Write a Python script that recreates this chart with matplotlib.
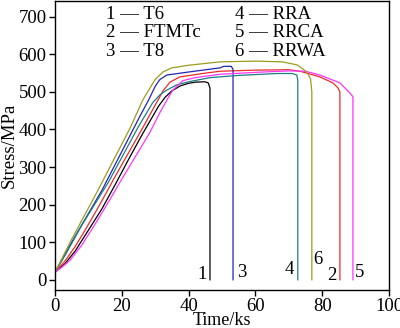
import matplotlib
matplotlib.use("Agg")
import matplotlib.pyplot as plt

plt.rcParams['font.family'] = ['Liberation Serif', 'DejaVu Serif']
plt.rcParams['font.size'] = 13.5

# stress-time curves (Time/ks, Stress/MPa)
t6_t = [0, 3, 6, 9, 12, 14, 18, 22, 26, 31, 33, 35, 37.5, 40, 42, 44.9, 45.9, 46.4, 46.4]
t6_s = [20, 43, 76, 118, 160, 188, 253, 320, 385, 462, 486, 503, 516, 523, 526, 527, 524, 510, 0]

ftmtc_t = [0, 3, 6, 9, 12, 15, 18, 21.5, 26.3, 30.5, 32.3, 34.4, 37.4, 45, 49.4, 60, 70,
           73.4, 79.3, 83.2, 84.7, 85.3, 85.3]
ftmtc_s = [20, 50, 88, 132, 178, 226, 275, 330, 405, 473, 502, 526, 540, 550, 555, 558, 559,
           555, 540, 524, 511, 500, 0]

t8_t = [0, 5, 14.1, 25.4, 28, 30, 31.4, 33.5, 40, 49.4, 50.5, 52.8, 53.3, 53.3]
t8_s = [20, 100, 239, 435, 478, 515, 533, 545, 553, 564, 568, 568, 560, 0]

rra_t = [0, 3, 8, 16, 25, 29.3, 31.5, 33.5, 36.5, 40, 46.4, 55, 66.5, 71, 72.4, 72.7, 72.7]
rra_s = [20, 65, 145, 260, 408, 472, 493, 505, 519, 527, 538, 544, 549, 549, 545, 530, 0]

rrca_t = [0, 2, 4.5, 8, 12, 16, 20, 23.4, 28.4, 31.4, 33.8, 35.3, 38.3, 42, 49.4, 60, 70,
          75, 79.3, 85.3, 88.3, 89.2, 89.2]
rrca_s = [20, 33, 52, 92, 148, 207, 268, 318, 392, 445, 483, 505, 530, 538, 547, 552, 556,
          555, 545, 524, 497, 487, 0]

rrwa_t = [0, 5, 12.9, 22.5, 26.3, 29.9, 32.3, 35, 40, 49.4, 60, 68, 72.5, 75.4, 76.5, 76.9, 76.9]
rrwa_s = [20, 108, 239, 404, 479, 532, 553, 564, 571, 580, 582, 580, 572, 553, 535, 500, 0]

curves = [
    (t6_t, t6_s, 'black'),
    (ftmtc_t, ftmtc_s, '#ee2a2a'),
    (t8_t, t8_s, '#2424b4'),
    (rra_t, rra_s, '#1e7e84'),
    (rrca_t, rrca_s, '#ff33ff'),
    (rrwa_t, rrwa_s, '#9c9c1e'),
]

# curve numbers near the fracture lines
num_labels = ['1', '3', '4', '6', '2', '5']
num_x = [44, 56, 70.3, 78.7, 82.9, 91.3]
num_y = [13, 19, 27, 53, 11, 19]

legend_left = ['1 — T6', '2 — FTMTc', '3 — T8']
legend_right = ['4 — RRA', '5 — RRCA', '6 — RRWA']
legend_y = [705, 657, 608]

fig = plt.figure(figsize=(4, 3.28), dpi=100)
ax = fig.add_axes([0.1375, 0.116, 0.835, 0.881])

for t, s, c in curves:
    ax.plot(t, s, color=c, lw=0.9)

for lab, x, y in zip(num_labels, num_x, num_y):
    ax.text(x, y, lab, ha='center', va='center')

for lab, y in zip(legend_left, legend_y):
    ax.text(15.3, y, lab, ha='left', va='center')
for lab, y in zip(legend_right, legend_y):
    ax.text(54, y, lab, ha='left', va='center')

ax.set_xlim(0, 100)
ax.set_ylim(-27, 742)
ax.set_xticks([0, 20, 40, 60, 80, 100])
ax.set_yticks([0, 100, 200, 300, 400, 500, 600, 700])
ax.tick_params(direction='out', length=4, width=1, top=False, right=False, pad=2)
for sp in ax.spines.values():
    sp.set_linewidth(1)
ax.set_xlabel('Time/ks', fontsize=13)
ax.set_ylabel('Stress/MPa', fontsize=13.5)
ax.xaxis.set_label_coords(0.5, -0.077)
ax.yaxis.set_label_coords(-0.113, 0.5)

fig.savefig('out.png', dpi=100)
